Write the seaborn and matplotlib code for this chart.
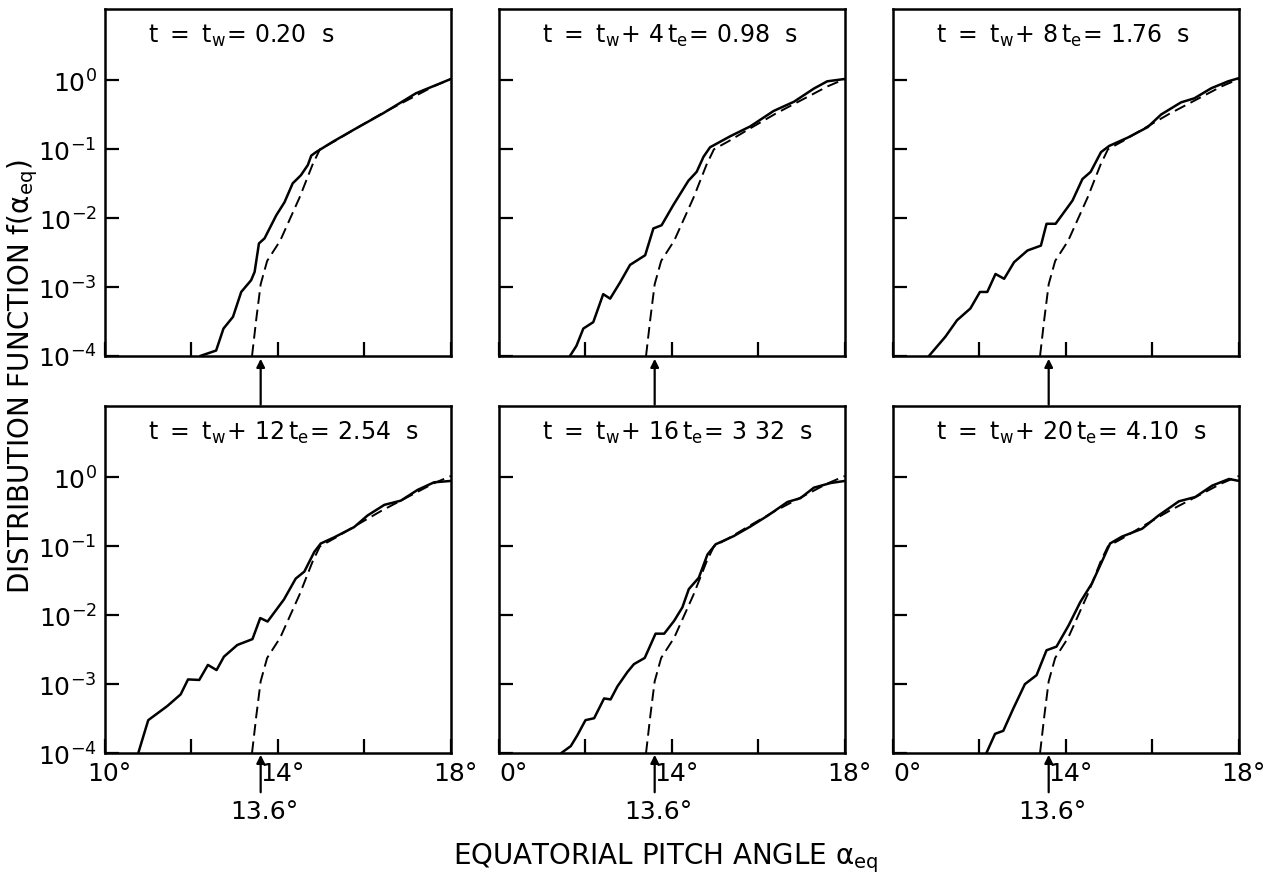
import numpy as np
import pandas as pd
import matplotlib
matplotlib.use("Agg")
import matplotlib.pyplot as plt
import matplotlib.transforms as mtrans
import seaborn as sns
from matplotlib.ticker import FixedLocator, FixedFormatter, NullLocator

# panel titles
titles = [
    r"$t\ =\ t_w\!=\,0.20\ \ s$",
    r"$t\ =\ t_w\!+\,4\,t_e\!=\,0.98\ \ s$",
    r"$t\ =\ t_w\!+\,8\,t_e\!=\,1.76\ \ s$",
    r"$t\ =\ t_w\!+\,12\,t_e\!=\,2.54\ \ s$",
    r"$t\ =\ t_w\!+\,16\,t_e\!=\,3\ 32\ \ s$",
    r"$t\ =\ t_w\!+\,20\,t_e\!=\,4.10\ \ s$",
]

# solid curves (pitch angle in deg, distribution function)
x_020 = [12.20, 12.57, 12.74, 12.96, 13.15, 13.38, 13.46, 13.56, 13.69, 13.96, 14.15,
         14.34, 14.53, 14.69, 14.77, 14.88, 15.27, 15.80, 16.42, 17.19, 18.00]
f_020 = [1.0e-4, 1.2e-4, 2.5e-4, 3.7e-4, 8.5e-4, 1.26e-3, 1.66e-3, 4.3e-3, 5.1e-3, 1.1e-2, 1.7e-2,
         3.2e-2, 4.2e-2, 5.9e-2, 8.1e-2, 9.1e-2, 0.129, 0.20, 0.33, 0.65, 1.05]

x_098 = [11.64, 11.79, 11.95, 12.18, 12.41, 12.57, 12.80, 13.03, 13.38, 13.57, 13.76, 14.03,
         14.38, 14.57, 14.73, 14.88, 15.35, 15.81, 16.35, 16.82, 17.28, 17.59, 18.00]
f_098 = [1.0e-4, 1.4e-4, 2.5e-4, 3.1e-4, 7.9e-4, 6.8e-4, 1.17e-3, 2.1e-3, 2.9e-3, 7.1e-3, 7.9e-3, 1.55e-2,
         3.5e-2, 4.7e-2, 7.8e-2, 0.107, 0.155, 0.215, 0.36, 0.49, 0.76, 0.97, 1.05]

x_176 = [10.83, 11.21, 11.48, 11.79, 12.01, 12.18, 12.37, 12.57, 12.80, 13.11, 13.42, 13.55, 13.76,
         14.15, 14.38, 14.57, 14.81, 15.00, 15.43, 15.89, 16.20, 16.66, 16.97, 17.36, 17.75, 18.00]
f_176 = [1.0e-4, 1.9e-4, 3.3e-4, 4.9e-4, 8.5e-4, 8.5e-4, 1.55e-3, 1.32e-3, 2.3e-3, 3.4e-3, 4.0e-3, 8.3e-3, 8.3e-3,
         1.8e-2, 3.7e-2, 4.7e-2, 9.1e-2, 0.112, 0.148, 0.21, 0.32, 0.48, 0.55, 0.77, 0.97, 1.08]

x_254 = [10.77, 11.00, 11.44, 11.75, 11.92, 12.18, 12.38, 12.58, 12.75, 13.06, 13.41, 13.59, 13.76,
         14.14, 14.41, 14.61, 14.84, 14.99, 15.30, 15.76, 16.07, 16.46, 16.84, 17.23, 17.61, 18.00]
f_254 = [1.0e-4, 3.0e-4, 4.8e-4, 7.1e-4, 1.17e-3, 1.15e-3, 1.9e-3, 1.6e-3, 2.5e-3, 3.7e-3, 4.5e-3, 9.1e-3, 8.1e-3,
         1.7e-2, 3.4e-2, 4.3e-2, 8.3e-2, 0.11, 0.135, 0.19, 0.28, 0.40, 0.46, 0.66, 0.85, 0.89]

x_332 = [11.44, 11.66, 11.81, 12.00, 12.20, 12.43, 12.58, 12.74, 12.97, 13.12, 13.37, 13.62, 13.82,
         14.05, 14.24, 14.39, 14.62, 14.82, 15.01, 15.43, 15.82, 16.20, 16.67, 16.97, 17.28, 17.67, 18.00]
f_332 = [1.0e-4, 1.26e-4, 1.8e-4, 3.0e-4, 3.2e-4, 6.2e-4, 6.0e-4, 9.3e-4, 1.5e-3, 1.95e-3, 2.4e-3, 5.4e-3, 5.4e-3,
         8.3e-3, 1.3e-2, 2.4e-2, 3.5e-2, 7.6e-2, 0.107, 0.141, 0.195, 0.275, 0.44, 0.50, 0.71, 0.83, 0.89]

x_410 = [12.16, 12.36, 12.55, 12.78, 13.05, 13.32, 13.55, 13.78, 14.06, 14.33, 14.60, 14.83,
         15.02, 15.29, 15.76, 16.14, 16.61, 16.99, 17.38, 17.77, 18.00]
f_410 = [1.0e-4, 1.9e-4, 2.1e-4, 4.4e-4, 1.0e-3, 1.35e-3, 3.1e-3, 3.5e-3, 7.1e-3, 1.55e-2, 2.9e-2, 6.0e-2,
         0.11, 0.138, 0.18, 0.28, 0.45, 0.52, 0.76, 0.95, 0.89]

# dashed reference curve (same in every panel)
x_ref = [13.40, 13.50, 13.60, 13.75, 14.05, 14.50, 14.80, 14.97, 15.30, 15.80, 16.40, 17.00, 17.60, 18.00]
f_ref = [1.0e-4, 3.5e-4, 1.1e-3, 2.4e-3, 4.7e-3, 2.0e-2, 6.0e-2, 0.10, 0.13, 0.20, 0.33, 0.52, 0.82, 1.05]

yticks = [1e-4, 1e-3, 1e-2, 1e-1, 1e0]
ytick_labels = [r"$10^{-4}$", r"$10^{-3}$", r"$10^{-2}$", r"$10^{-1}$", r"$10^{0}$"]
xticks = [10, 12, 14, 16, 18]
xlabels_first = ["10°", "", "14°", "", "18°"]
xlabels_other = ["0°", "", "14°", "", "18°"]
cutoff = 13.6

sns.set_theme(style="ticks")
plt.rcParams["font.family"] = ["DejaVu Sans"]
plt.rcParams["mathtext.default"] = "regular"
plt.rcParams["text.color"] = "black"

curves = [(x_020, f_020), (x_098, f_098), (x_176, f_176),
          (x_254, f_254), (x_332, f_332), (x_410, f_410)]

fig = plt.figure(figsize=(12.71, 8.78), dpi=100)
fig.patch.set_facecolor("white")

lefts = [0.0826, 0.3926, 0.7026]
bottoms = [0.5934, 0.1412]
w, h = 0.2722, 0.3955

for i, (xs, fs) in enumerate(curves):
    row, col = divmod(i, 3)
    ax = fig.add_axes([lefts[col], bottoms[row], w, h])
    ax.set_facecolor("white")

    df = pd.DataFrame({"alpha": xs, "f": fs})
    ref = pd.DataFrame({"alpha": x_ref, "f": f_ref})
    sns.lineplot(data=ref, x="alpha", y="f", ax=ax, color="black", lw=1.4,
                 linestyle=(0, (6, 3)), estimator=None, sort=False)
    sns.lineplot(data=df, x="alpha", y="f", ax=ax, color="black", lw=1.8,
                 estimator=None, sort=False)

    ax.set_yscale("log")
    ax.set_xlim(10, 18)
    ax.set_ylim(1e-4, 10 ** 1.04)
    ax.yaxis.set_major_locator(FixedLocator(yticks))
    ax.yaxis.set_minor_locator(NullLocator())
    ax.xaxis.set_major_locator(FixedLocator(xticks))
    ax.set_xlabel("")
    ax.set_ylabel("")

    ax.tick_params(axis="both", which="major", direction="in", length=10, width=1.6,
                   labelsize=18, color="black", labelcolor="black")
    ax.tick_params(axis="x", pad=6)
    ax.tick_params(axis="y", pad=6)

    if col == 0:
        ax.yaxis.set_major_formatter(FixedFormatter(ytick_labels))
    else:
        ax.set_yticklabels([])

    if row == 1:
        ax.set_xticklabels(xlabels_first if col == 0 else xlabels_other)
        off = mtrans.ScaledTranslation(4 / 100, 0, fig.dpi_scale_trans)
        for lab in ax.get_xticklabels():
            if lab.get_text() == "0°":
                lab.set_horizontalalignment("left")
            else:
                lab.set_transform(lab.get_transform() + off)
    else:
        ax.set_xticklabels([])

    for sp in ax.spines.values():
        sp.set_linewidth(1.8)
        sp.set_color("black")

    ax.text(0.125, 0.925, titles[i], transform=ax.transAxes, fontsize=17,
            ha="left", va="center", color="black")

    # loss-cone arrow at 13.6 deg
    if row == 0:
        ax.annotate("", xy=(cutoff, -0.008), xytext=(cutoff, -0.14),
                    xycoords=("data", "axes fraction"), textcoords=("data", "axes fraction"),
                    arrowprops=dict(arrowstyle="-|>", color="black", lw=1.6,
                                    mutation_scale=12, shrinkA=0, shrinkB=0))
    else:
        ax.annotate("", xy=(cutoff, -0.005), xytext=(cutoff, -0.113),
                    xycoords=("data", "axes fraction"), textcoords=("data", "axes fraction"),
                    arrowprops=dict(arrowstyle="-|>", color="black", lw=1.6,
                                    mutation_scale=12, shrinkA=0, shrinkB=0))
        ax.text(cutoff + 0.08, -0.167, "13.6°", transform=ax.get_xaxis_transform(),
                fontsize=18, ha="center", va="center", color="black")

fig.text(0.018, 0.571, r"DISTRIBUTION FUNCTION $f(\alpha_{eq})$", rotation=90,
         fontsize=20, ha="center", va="center", color="black")
fig.text(0.524, 0.023, r"EQUATORIAL PITCH ANGLE $\alpha_{eq}$", fontsize=20,
         ha="center", va="center", color="black")

fig.savefig("out.png", dpi=100, facecolor="white")
